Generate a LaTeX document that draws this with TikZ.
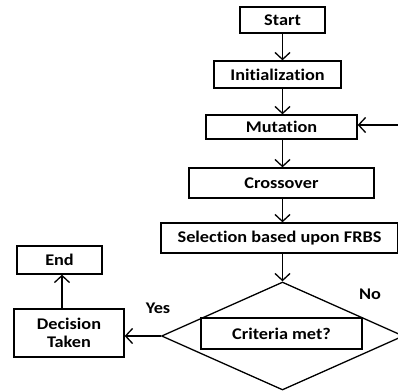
\documentclass[tikz,border=0pt]{standalone}
\usepackage{fontspec}
\setmainfont{Carlito}[FakeStretch=1.12, Ligatures={NoCommon}]
\usepackage{tikz}
\usetikzlibrary{shapes.geometric,arrows.meta}

\begin{document}
\begin{tikzpicture}[x=1pt, y=-1pt, line width=1.3pt,
      font=\fontsize{16.3}{18}\selectfont\bfseries,
      box/.style={draw, rectangle, inner sep=0pt},
      arr/.style={-{Straight Barb[length=7pt,width=15pt,line width=1.3pt]}}]
             \useasboundingbox (0,0) rectangle (398,390);

             \node[box, minimum width=85pt, minimum height=26pt] (start) at (282.5, 20) {Start};
             \node[box, minimum width=127pt, minimum height=27pt] (init) at (277.5, 74.5) {Initialization};
             \node[box, minimum width=151pt, minimum height=24pt] (mut) at (281.5, 127) {Mutation};
             \node[box, minimum width=185pt, minimum height=30pt] (cross) at (281.5, 183) {Crossover};
             \node[box, minimum width=237pt, minimum height=30pt] (sel) at (279.5, 238) {Selection based upon FRBS};

             \node[draw, diamond, minimum width=242pt, minimum height=108pt, inner sep=0pt] (crit) at (282.5, 336) {};
             \node[box, minimum width=161pt, minimum height=31pt] (critbox) at (281.5, 333.5) {Criteria met?};

             \node[box, minimum width=110pt, minimum height=48pt, align=center] (taken) at (69, 333) {Decision\\Taken};
             \node[box, minimum width=85pt, minimum height=28pt] (end) at (59.5, 260) {End};

             \node[draw=none] (yes) at (158, 308) {Yes};
             \node[draw=none] (no) at (370, 294) {No};
             \coordinate (back) at (398, 125);
             \coordinate (up) at (62, 309);

             \draw[arr] (start.south) -- (start.south |- init.north);
             \draw[arr] (start.south |- init.south) -- (start.south |- mut.north);
             \draw[arr] (start.south |- mut.south) -- (start.south |- cross.north);
             \draw[arr] (start.south |- cross.south) -- (start.south |- sel.north);
             \draw[arr] (crit.north |- sel.south) -- (crit.north);
             \draw[arr] (back) -- (back -| mut.east);
             \draw[arr] (crit.west) -- (crit.west -| taken.east);
             \draw[arr] (up) -- (up |- end.south);
             \end{tikzpicture}
\end{document}
